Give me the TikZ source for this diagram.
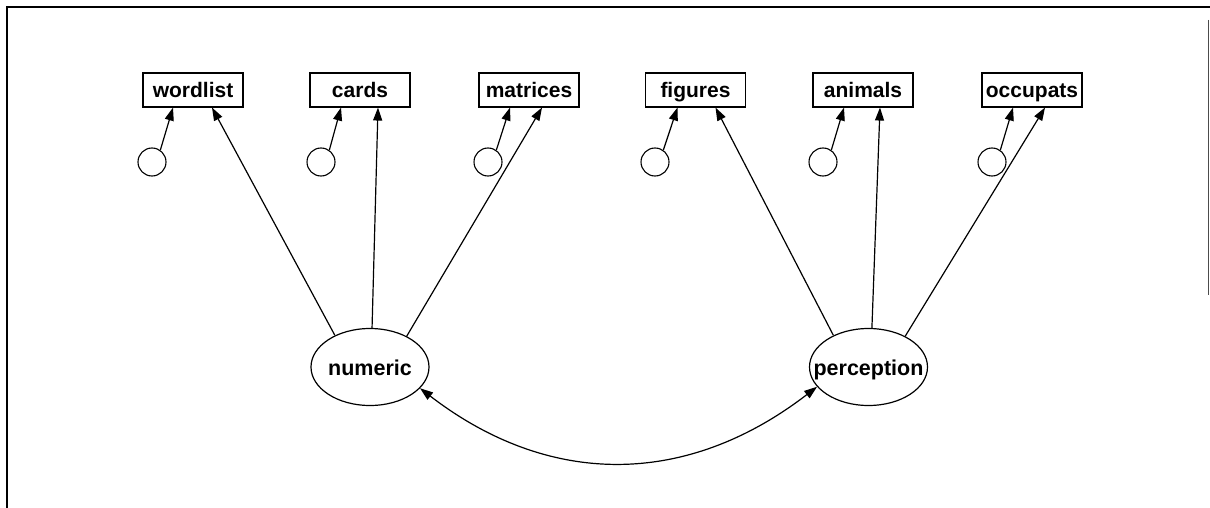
\documentclass[tikz,border=0pt]{standalone}
\usepackage{fontspec}
\setmainfont{Liberation Sans}
\usetikzlibrary{shapes.geometric,arrows.meta,calc}
\begin{document}
\begin{tikzpicture}[x=1pt,y=-1pt,
  obs/.style={draw,line width=1.1pt,minimum width=100pt,minimum height=34pt,inner sep=0pt,text height=16pt,text depth=0pt,font=\fontsize{21}{23}\selectfont\bfseries},
  err/.style={draw,circle,line width=1.1pt,minimum size=28pt,inner sep=0pt},
  lat/.style={draw,ellipse,line width=1.2pt,minimum width=118pt,minimum height=77pt,inner xsep=-40pt,inner ysep=0pt,text height=16pt,text depth=0pt,font=\fontsize{21.5}{23}\selectfont\bfseries},
  arr/.style={line width=1.2pt,-{Triangle[length=13pt,width=9pt]}},
  darr/.style={line width=1.2pt,{Triangle[length=13pt,width=9pt]}-{Triangle[length=13pt,width=9pt]}},
  frame/.style={line width=1.4pt}]
\useasboundingbox (0,0) rectangle (1210,508);
% frame
\coordinate (fa) at (7,508);
\coordinate (fb) at (7,7);
\coordinate (fc) at (1210,7);
\coordinate (fd) at (1208.5,20);
\coordinate (fe) at (1208.5,295);
\draw[frame] (fa) -- (fb) -- (fc);
\draw[line width=1pt,black!70] (fd) -- (fe);
% observed
\node[obs] (wordlist) at (193,90) {wordlist};
\node[obs] (cards) at (360,90) {cards};
\node[obs] (matrices) at (529,90) {matrices};
\node[obs] (figures) at (695.5,90) {figures};
\node[obs] (animals) at (863,90) {animals};
\node[obs] (occupats) at (1032,90) {occupats};
% errors
\node[err] (e1) at (152,162) {};
\node[err] (e2) at (321,162) {};
\node[err] (e3) at (488,162) {};
\node[err] (e4) at (655,162) {};
\node[err] (e5) at (823,162) {};
\node[err] (e6) at (992,162) {};
% latent
\node[lat] (numeric) at (370,367) {numeric};
\node[lat] (perception) at (868.5,367) {perception};
% error arrows
\draw[arr] (e1.55) -- ($(wordlist.south)+(-20,0)$);
\draw[arr] (e2.55) -- ($(cards.south)+(-19,0)$);
\draw[arr] (e3.55) -- ($(matrices.south)+(-19,0)$);
\draw[arr] (e4.55) -- ($(figures.south)+(-18,0)$);
\draw[arr] (e5.55) -- ($(animals.south)+(-19,0)$);
\draw[arr] (e6.55) -- ($(occupats.south)+(-19,0)$);
% loadings
\draw[arr] (numeric.138) -- ($(wordlist.south)+(19,0)$);
\draw[arr] (numeric.87) -- ($(cards.south)+(18,0)$);
\draw[arr] (numeric.40) -- ($(matrices.south)+(13,0)$);
\draw[arr] (perception.138) -- ($(figures.south)+(20,0)$);
\draw[arr] (perception.85) -- ($(animals.south)+(17,0)$);
\draw[arr] (perception.40) -- ($(occupats.south)+(13,0)$);
% covariance
\draw[darr] (numeric.-23) .. controls +(130,100) and +(-130,100) .. (perception.201);
\end{tikzpicture}
\end{document}
